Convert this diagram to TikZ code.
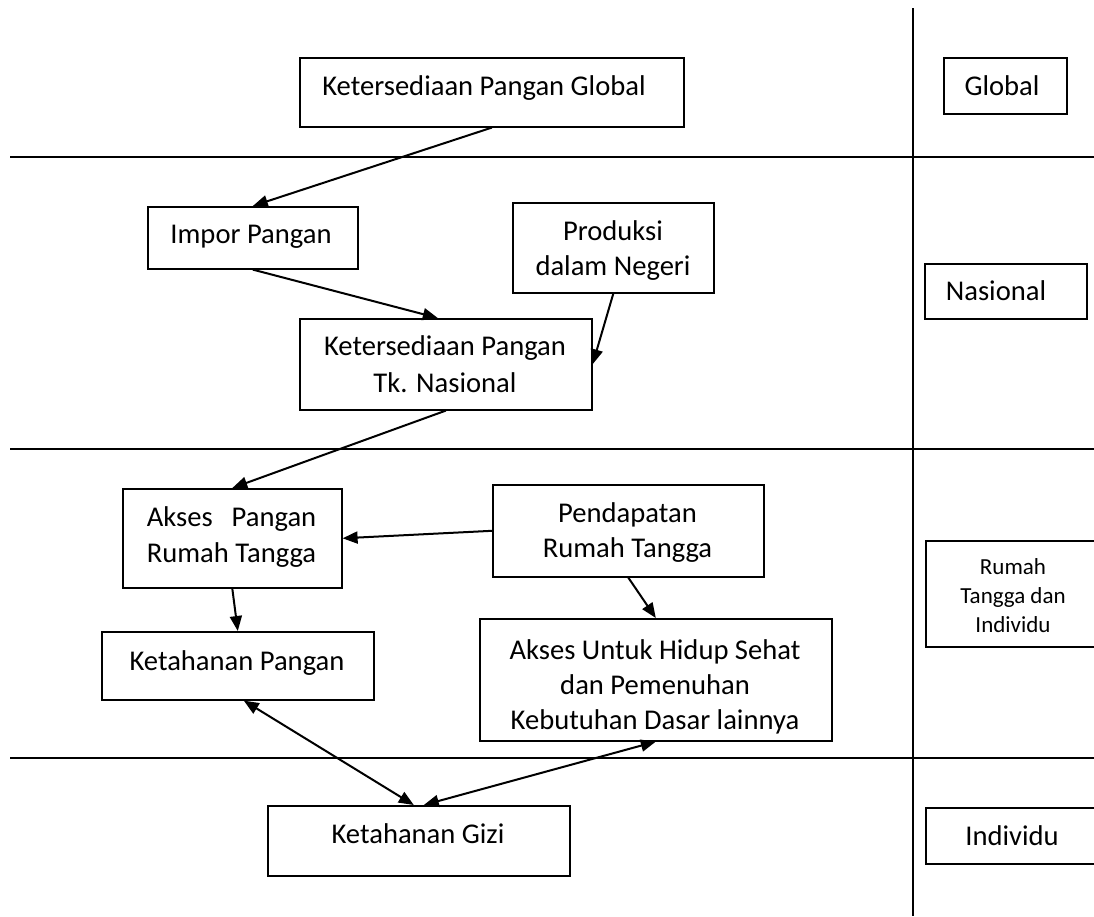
\documentclass[tikz,border=0pt]{standalone}
\usepackage{fontspec}
\setmainfont{Carlito}
\usetikzlibrary{arrows.meta}
\begin{document}
\begin{tikzpicture}[x=1pt,y=-1pt,
  box/.style={draw,line width=1.6pt,inner sep=0pt,anchor=north west},
  txt/.style={anchor=base,inner sep=0pt,font=\fontsize{28.6}{35}\selectfont},
  small/.style={anchor=base,inner sep=0pt,font=\fontsize{23}{29}\selectfont},
  arr/.style={line width=2pt,-{Triangle[length=15pt,width=12pt]}},
  darr/.style={line width=2pt,{Triangle[length=15pt,width=12pt]}-{Triangle[length=15pt,width=12pt]}},
  sepline/.style={line width=1.4pt},
  vline/.style={line width=2pt}]
\useasboundingbox (0,0) rectangle (1094,916);

% separators
\coordinate (vt) at (913,8);
\coordinate (vb) at (913,916);
\coordinate (h1a) at (10,157);
\coordinate (h1b) at (1094,157);
\coordinate (h2a) at (10,449);
\coordinate (h2b) at (1094,449);
\coordinate (h3a) at (10,758);
\coordinate (h3b) at (1094,758);
\draw[sepline] (h1a) -- (h1b);
\draw[sepline] (h2a) -- (h2b);
\draw[sepline] (h3a) -- (h3b);
\draw[vline] (vt) -- (vb);

% boxes
\node[box,minimum width=384pt,minimum height=69pt] (glob) at (299,57) {};
\node[box,minimum width=123pt,minimum height=56pt] (globr) at (943,57) {};
\node[box,minimum width=210pt,minimum height=62pt] (impor) at (147,206) {};
\node[box,minimum width=201pt,minimum height=90pt] (prod) at (512,202) {};
\node[box,minimum width=292pt,minimum height=91pt] (kn) at (299,318) {};
\node[box,minimum width=162pt,minimum height=55pt] (nas) at (924,263) {};
\node[box,minimum width=219pt,minimum height=99pt] (akp) at (122,488) {};
\node[box,minimum width=271pt,minimum height=92pt] (pend) at (492,484) {};
\node[box,minimum width=272pt,minimum height=68pt] (kp) at (101,631) {};
\node[box,minimum width=352pt,minimum height=122pt] (au) at (479,618) {};
\node[box,minimum width=180pt,minimum height=106pt] (rti) at (925,540) {};
\node[box,minimum width=180pt,minimum height=56pt] (ind) at (925,807) {};
\node[box,minimum width=302pt,minimum height=70pt] (gizi) at (267,805) {};

% texts
\node[txt] (glob-t) at (484,95) {Ketersediaan Pangan Global};
\node[txt] (globr-t) at (1002,95) {Global};
\node[txt] (impor-t) at (251,243) {Impor Pangan};
\node[txt] (prod-t1) at (613,240) {Produksi};
\node[txt] (prod-t2) at (613,275) {dalam Negeri};
\node[txt] (kn-t1) at (445,355) {Ketersediaan Pangan};
\node[txt] (kn-t2) at (445,392) {Tk. Nasional};
\node[txt] (nas-t) at (996,300) {Nasional};
\node[txt] (akp-t1) at (231.5,526) {\setbox0\hbox{Rumah Tangga}\hbox to \wd0{Akses\hfill Pangan}};
\node[txt] (akp-t2) at (231.5,562) {Rumah Tangga};
\node[txt] (pend-t1) at (627.5,522) {Pendapatan};
\node[txt] (pend-t2) at (627.5,557) {Rumah Tangga};
\node[txt] (kp-t) at (237,670) {Ketahanan Pangan};
\node[txt] (au-t1) at (655,659) {Akses Untuk Hidup Sehat};
\node[txt] (au-t2) at (655,694) {dan Pemenuhan};
\node[txt] (au-t3) at (655,729) {Kebutuhan Dasar lainnya};
\node[small] (rti-t1) at (1013,574) {Rumah};
\node[small] (rti-t2) at (1013,603) {Tangga dan};
\node[small] (rti-t3) at (1013,632) {Individu};
\node[txt] (ind-t) at (1012,845) {Individu};
\node[txt] (gizi-t) at (418,843) {Ketahanan Gizi};

% connectors
\draw[arr] (glob.south) -- (impor.north);
\draw[arr] (impor.south) -- ([xshift=-8pt]kn.north);
\draw[arr] (prod.south) -- (kn.east);
\draw[arr] (kn.south) -- (akp.north);
\draw[arr] (pend.west) -- (akp.east);
\draw[arr] (akp.south) -- (kp.north);
\draw[arr] (pend.south) -- (au.north);
\draw[darr] ([xshift=6pt]kp.south) -- ([xshift=-5pt]gizi.north);
\draw[darr] ([xshift=5pt]gizi.north) -- (au.south);
\end{tikzpicture}
\end{document}
